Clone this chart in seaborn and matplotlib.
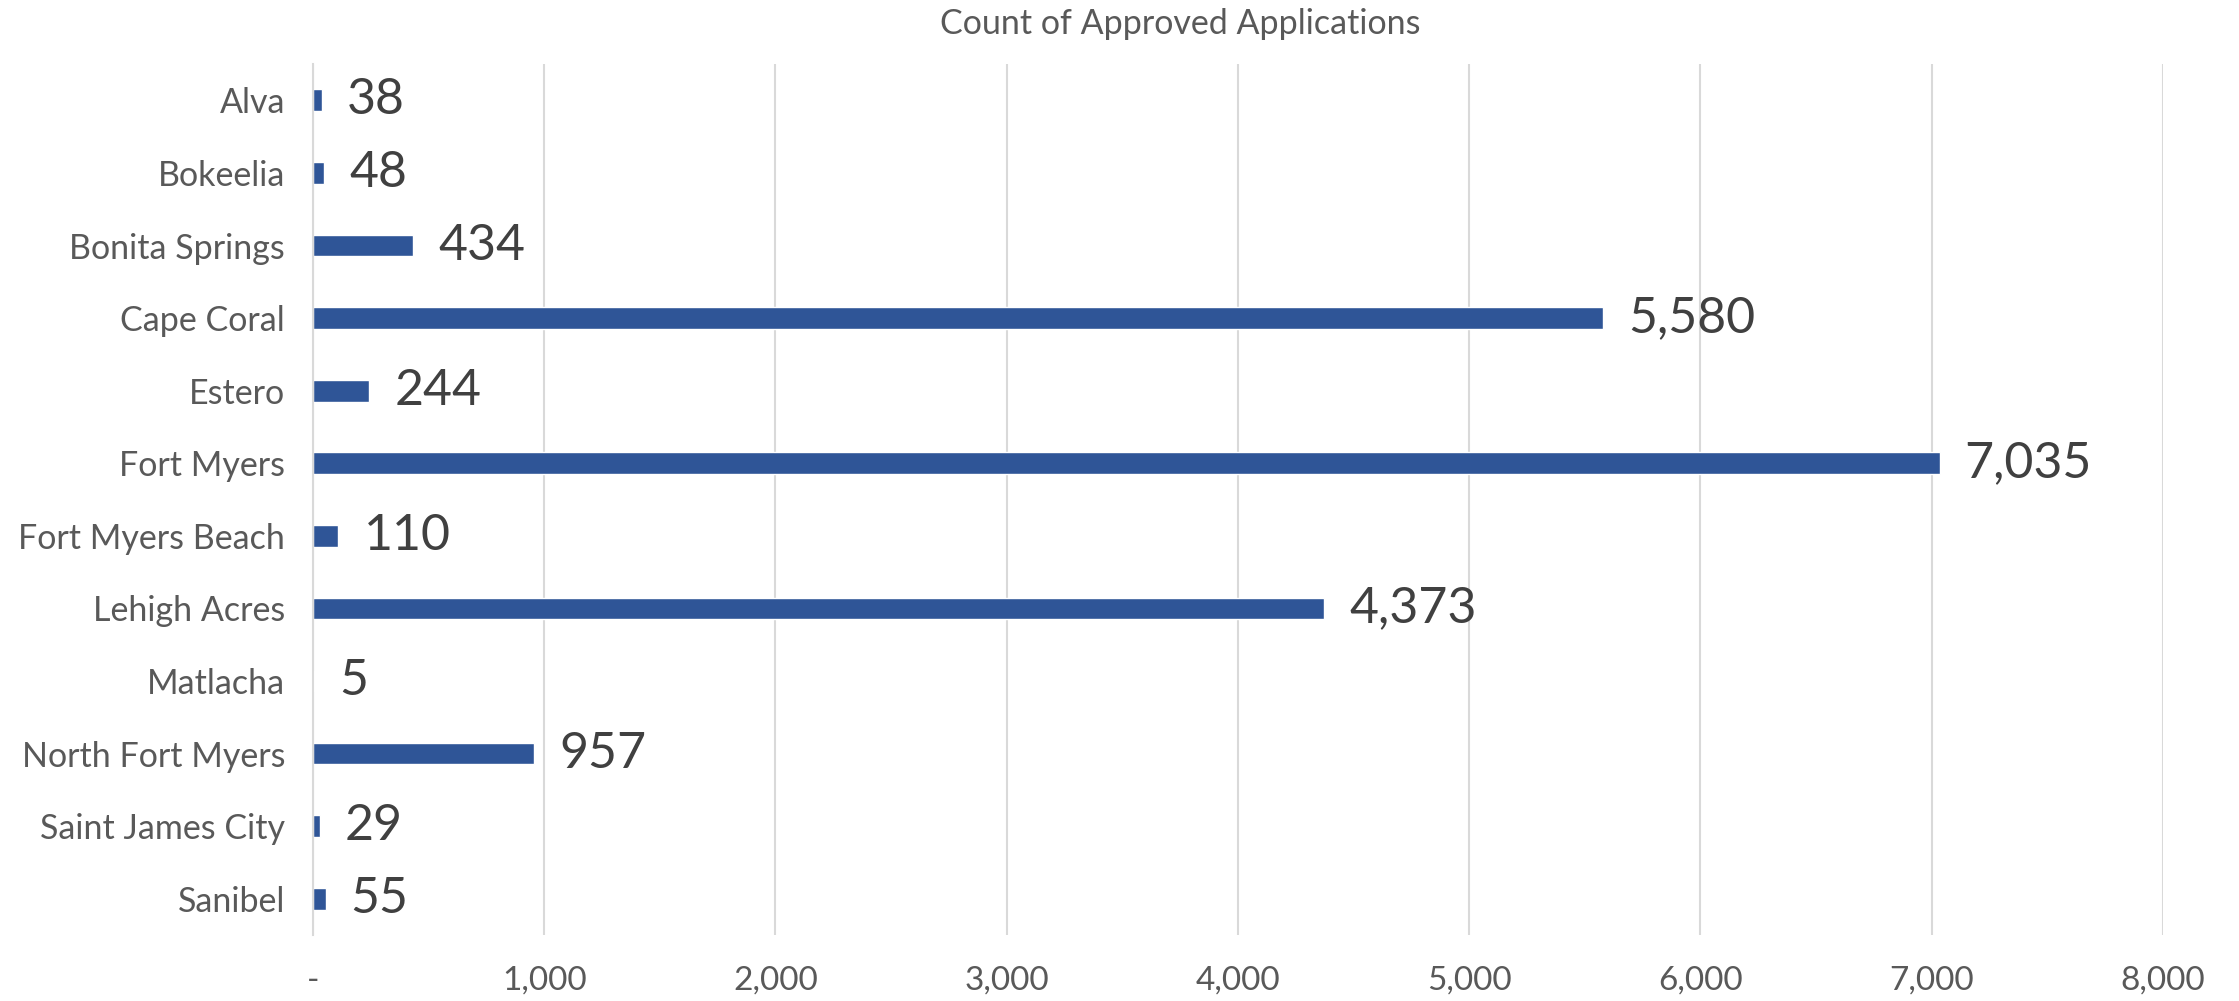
import matplotlib
matplotlib.use("Agg")
import matplotlib.pyplot as plt
import seaborn as sns
import pandas as pd
import numpy as np
from matplotlib.ticker import FixedLocator, FuncFormatter

cities = ["Alva", "Bokeelia", "Bonita Springs", "Cape Coral", "Estero", "Fort Myers",
          "Fort Myers Beach", "Lehigh Acres", "Matlacha", "North Fort Myers",
          "Saint James City", "Sanibel"]
counts = [38, 48, 434, 5580, 244, 7035, 110, 4373, 5, 957, 29, 55]
x_ticks = [0, 1000, 2000, 3000, 4000, 5000, 6000, 7000, 8000]
title = "Count of Approved Applications"

sns.set_theme(style="white")
plt.rcParams['font.family'] = ['Lato', 'DejaVu Sans']

df = pd.DataFrame({"city": cities, "count": counts})

fig = plt.figure(figsize=(22.39, 10.01), dpi=100)
ax = fig.add_axes([0.1398, 0.0659, 0.9660 - 0.1398, 0.936 - 0.0659])

sns.barplot(data=df, x="count", y="city", orient="h", color="#2F5597",
            width=0.3, saturation=1, ax=ax, order=cities)

ax.set_xlim(0, 8000)
ax.set_ylim(len(cities) - 0.5, -0.5)
ax.set_xticks(x_ticks)
ax.xaxis.set_major_formatter(FuncFormatter(lambda v, p: "-" if v == 0 else f"{int(v):,}"))
ax.grid(axis="x", color="#D9D9D9", linewidth=1.5)
ax.set_axisbelow(True)
for s in ["top", "right", "bottom"]:
    ax.spines[s].set_visible(False)
ax.spines["left"].set_color("#D9D9D9")
ax.spines["left"].set_linewidth(1.5)

ax.set_xlabel("")
ax.set_ylabel("")
ax.tick_params(axis="x", length=0, labelsize=24, labelcolor="#595959", pad=22)
ax.tick_params(axis="y", which="major", length=0, labelsize=24.5, labelcolor="#595959", pad=20)
ax.yaxis.set_minor_locator(FixedLocator(np.arange(-0.5, len(cities), 1.0)))
ax.tick_params(axis="y", which="minor", length=8, width=1.5, color="#D9D9D9")

for i, v in enumerate(counts):
    ax.annotate(f"{v:,}", xy=(v, i), xytext=(18, 0), textcoords="offset points",
                ha="left", va="center", fontsize=36, color="#404040")

fig.text(0.527, 1 - 24 / 1001, title, ha="center", va="center",
         fontsize=24.5, color="#595959")

fig.savefig("out.png", dpi=100)
